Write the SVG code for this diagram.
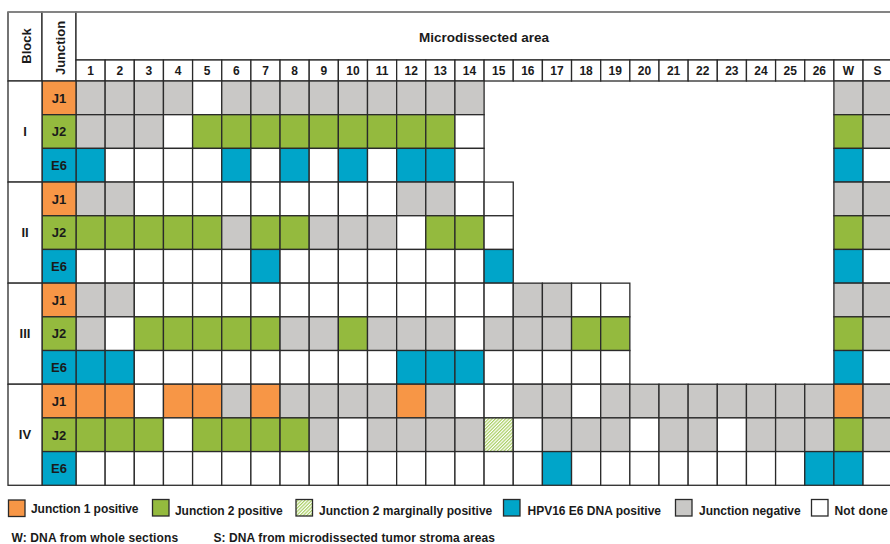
<svg xmlns="http://www.w3.org/2000/svg" width="890" height="544" viewBox="0 0 890 544">
<style>
  .t{font-family:"Liberation Sans",Arial,sans-serif;font-weight:bold;fill:#1a1a1a}
  .c{text-anchor:middle}
  .grid rect,.lab rect,.hdr rect,.leg rect{stroke:#2a2a2a;stroke-width:1.3}
  .n{fill:#c9c8c6}.w{fill:#ffffff}.g{fill:#94ba3e}.o{fill:#f79646}.b{fill:#00a5c9}.h{fill:url(#hatch)}
</style>
<defs>
  <pattern id="hatch" patternUnits="userSpaceOnUse" width="2.4" height="2.4" patternTransform="rotate(45)">
    <rect width="2.4" height="2.4" fill="#ffffff"/>
    <rect width="1.2" height="2.4" fill="#a9cf63"/>
  </pattern>
</defs>
<rect width="890" height="544" fill="#ffffff"/>

<!-- Header -->
<g id="header" class="hdr">
  <rect class="w" x="8" y="12" width="34" height="69"/>
  <rect class="w" x="42" y="12" width="34" height="69"/>
  <rect class="w" x="76" y="12" width="816.2" height="48"/>
  <line x1="8" y1="12" x2="890" y2="12" stroke="#8a8a8a" stroke-width="1.6"/>
  <text class="t c" font-size="13" transform="translate(31,46) rotate(-90)">Block</text>
  <text class="t c" font-size="13" transform="translate(64.5,48) rotate(-90)">Junction</text>
  <text class="t c" x="484" y="41.5" font-size="13.5">Microdissected area</text>
  <g transform="translate(0,60)">
    <rect class="w" x="76" y="0" width="29.15" height="21"/>
    <rect class="w" x="105.15" y="0" width="29.15" height="21"/>
    <rect class="w" x="134.3" y="0" width="29.15" height="21"/>
    <rect class="w" x="163.45" y="0" width="29.15" height="21"/>
    <rect class="w" x="192.6" y="0" width="29.15" height="21"/>
    <rect class="w" x="221.75" y="0" width="29.15" height="21"/>
    <rect class="w" x="250.9" y="0" width="29.15" height="21"/>
    <rect class="w" x="280.05" y="0" width="29.15" height="21"/>
    <rect class="w" x="309.2" y="0" width="29.15" height="21"/>
    <rect class="w" x="338.35" y="0" width="29.15" height="21"/>
    <rect class="w" x="367.5" y="0" width="29.15" height="21"/>
    <rect class="w" x="396.65" y="0" width="29.15" height="21"/>
    <rect class="w" x="425.8" y="0" width="29.15" height="21"/>
    <rect class="w" x="454.95" y="0" width="29.15" height="21"/>
    <rect class="w" x="484.1" y="0" width="29.15" height="21"/>
    <rect class="w" x="513.25" y="0" width="29.15" height="21"/>
    <rect class="w" x="542.4" y="0" width="29.15" height="21"/>
    <rect class="w" x="571.55" y="0" width="29.15" height="21"/>
    <rect class="w" x="600.7" y="0" width="29.15" height="21"/>
    <rect class="w" x="629.85" y="0" width="29.15" height="21"/>
    <rect class="w" x="659" y="0" width="29.15" height="21"/>
    <rect class="w" x="688.15" y="0" width="29.15" height="21"/>
    <rect class="w" x="717.3" y="0" width="29.15" height="21"/>
    <rect class="w" x="746.45" y="0" width="29.15" height="21"/>
    <rect class="w" x="775.6" y="0" width="29.15" height="21"/>
    <rect class="w" x="804.75" y="0" width="29.15" height="21"/>
    <rect class="w" x="833.9" y="0" width="29.15" height="21"/>
    <rect class="w" x="863.05" y="0" width="29.15" height="21"/>
    <g class="t c" font-size="12">
      <text x="90.58" y="15.3">1</text><text x="119.73" y="15.3">2</text><text x="148.88" y="15.3">3</text><text x="178.03" y="15.3">4</text>
      <text x="207.18" y="15.3">5</text><text x="236.33" y="15.3">6</text><text x="265.48" y="15.3">7</text><text x="294.63" y="15.3">8</text>
      <text x="323.78" y="15.3">9</text><text x="352.93" y="15.3">10</text><text x="382.08" y="15.3">11</text><text x="411.23" y="15.3">12</text>
      <text x="440.38" y="15.3">13</text><text x="469.53" y="15.3">14</text><text x="498.68" y="15.3">15</text><text x="527.83" y="15.3">16</text>
      <text x="556.98" y="15.3">17</text><text x="586.13" y="15.3">18</text><text x="615.28" y="15.3">19</text><text x="644.43" y="15.3">20</text>
      <text x="673.58" y="15.3">21</text><text x="702.73" y="15.3">22</text><text x="731.88" y="15.3">23</text><text x="761.03" y="15.3">24</text>
      <text x="790.18" y="15.3">25</text><text x="819.33" y="15.3">26</text><text x="848.48" y="15.3">W</text><text x="877.63" y="15.3">S</text>
    </g>
  </g>
</g>

<!-- Block I -->
<g id="block-I" class="grid">
  <g transform="translate(0,81)">
    <rect class="n" x="76" width="29.15" height="33.69"/><rect class="n" x="105.15" width="29.15" height="33.69"/><rect class="n" x="134.3" width="29.15" height="33.69"/><rect class="n" x="163.45" width="29.15" height="33.69"/>
    <rect class="w" x="192.6" width="29.15" height="33.69"/><rect class="n" x="221.75" width="29.15" height="33.69"/><rect class="n" x="250.9" width="29.15" height="33.69"/><rect class="n" x="280.05" width="29.15" height="33.69"/>
    <rect class="n" x="309.2" width="29.15" height="33.69"/><rect class="n" x="338.35" width="29.15" height="33.69"/><rect class="n" x="367.5" width="29.15" height="33.69"/><rect class="n" x="396.65" width="29.15" height="33.69"/>
    <rect class="n" x="425.8" width="29.15" height="33.69"/><rect class="n" x="454.95" width="29.15" height="33.69"/>
    <rect class="n" x="833.9" width="29.15" height="33.69"/><rect class="n" x="863.05" width="29.15" height="33.69"/>
  </g>
  <g transform="translate(0,114.69)">
    <rect class="n" x="76" width="29.15" height="33.69"/><rect class="n" x="105.15" width="29.15" height="33.69"/><rect class="n" x="134.3" width="29.15" height="33.69"/><rect class="w" x="163.45" width="29.15" height="33.69"/>
    <rect class="g" x="192.6" width="29.15" height="33.69"/><rect class="g" x="221.75" width="29.15" height="33.69"/><rect class="g" x="250.9" width="29.15" height="33.69"/><rect class="g" x="280.05" width="29.15" height="33.69"/>
    <rect class="g" x="309.2" width="29.15" height="33.69"/><rect class="g" x="338.35" width="29.15" height="33.69"/><rect class="g" x="367.5" width="29.15" height="33.69"/><rect class="g" x="396.65" width="29.15" height="33.69"/>
    <rect class="g" x="425.8" width="29.15" height="33.69"/><rect class="w" x="454.95" width="29.15" height="33.69"/>
    <rect class="g" x="833.9" width="29.15" height="33.69"/><rect class="n" x="863.05" width="29.15" height="33.69"/>
  </g>
  <g transform="translate(0,148.38)">
    <rect class="b" x="76" width="29.15" height="33.69"/><rect class="w" x="105.15" width="29.15" height="33.69"/><rect class="w" x="134.3" width="29.15" height="33.69"/><rect class="w" x="163.45" width="29.15" height="33.69"/>
    <rect class="w" x="192.6" width="29.15" height="33.69"/><rect class="b" x="221.75" width="29.15" height="33.69"/><rect class="w" x="250.9" width="29.15" height="33.69"/><rect class="b" x="280.05" width="29.15" height="33.69"/>
    <rect class="w" x="309.2" width="29.15" height="33.69"/><rect class="b" x="338.35" width="29.15" height="33.69"/><rect class="w" x="367.5" width="29.15" height="33.69"/><rect class="b" x="396.65" width="29.15" height="33.69"/>
    <rect class="b" x="425.8" width="29.15" height="33.69"/><rect class="w" x="454.95" width="29.15" height="33.69"/>
    <rect class="b" x="833.9" width="29.15" height="33.69"/><rect class="w" x="863.05" width="29.15" height="33.69"/>
  </g>
</g>

<!-- Block II -->
<g id="block-II" class="grid">
  <g transform="translate(0,182.07)">
    <rect class="n" x="76" width="29.15" height="33.69"/><rect class="n" x="105.15" width="29.15" height="33.69"/><rect class="w" x="134.3" width="29.15" height="33.69"/><rect class="w" x="163.45" width="29.15" height="33.69"/>
    <rect class="w" x="192.6" width="29.15" height="33.69"/><rect class="w" x="221.75" width="29.15" height="33.69"/><rect class="w" x="250.9" width="29.15" height="33.69"/><rect class="w" x="280.05" width="29.15" height="33.69"/>
    <rect class="w" x="309.2" width="29.15" height="33.69"/><rect class="w" x="338.35" width="29.15" height="33.69"/><rect class="w" x="367.5" width="29.15" height="33.69"/><rect class="n" x="396.65" width="29.15" height="33.69"/>
    <rect class="n" x="425.8" width="29.15" height="33.69"/><rect class="w" x="454.95" width="29.15" height="33.69"/><rect class="w" x="484.1" width="29.15" height="33.69"/>
    <rect class="n" x="833.9" width="29.15" height="33.69"/><rect class="n" x="863.05" width="29.15" height="33.69"/>
  </g>
  <g transform="translate(0,215.76)">
    <rect class="g" x="76" width="29.15" height="33.69"/><rect class="g" x="105.15" width="29.15" height="33.69"/><rect class="g" x="134.3" width="29.15" height="33.69"/><rect class="g" x="163.45" width="29.15" height="33.69"/>
    <rect class="g" x="192.6" width="29.15" height="33.69"/><rect class="n" x="221.75" width="29.15" height="33.69"/><rect class="g" x="250.9" width="29.15" height="33.69"/><rect class="g" x="280.05" width="29.15" height="33.69"/>
    <rect class="n" x="309.2" width="29.15" height="33.69"/><rect class="n" x="338.35" width="29.15" height="33.69"/><rect class="n" x="367.5" width="29.15" height="33.69"/><rect class="w" x="396.65" width="29.15" height="33.69"/>
    <rect class="g" x="425.8" width="29.15" height="33.69"/><rect class="g" x="454.95" width="29.15" height="33.69"/><rect class="w" x="484.1" width="29.15" height="33.69"/>
    <rect class="g" x="833.9" width="29.15" height="33.69"/><rect class="n" x="863.05" width="29.15" height="33.69"/>
  </g>
  <g transform="translate(0,249.45)">
    <rect class="w" x="76" width="29.15" height="33.69"/><rect class="w" x="105.15" width="29.15" height="33.69"/><rect class="w" x="134.3" width="29.15" height="33.69"/><rect class="w" x="163.45" width="29.15" height="33.69"/>
    <rect class="w" x="192.6" width="29.15" height="33.69"/><rect class="w" x="221.75" width="29.15" height="33.69"/><rect class="b" x="250.9" width="29.15" height="33.69"/><rect class="w" x="280.05" width="29.15" height="33.69"/>
    <rect class="w" x="309.2" width="29.15" height="33.69"/><rect class="w" x="338.35" width="29.15" height="33.69"/><rect class="w" x="367.5" width="29.15" height="33.69"/><rect class="w" x="396.65" width="29.15" height="33.69"/>
    <rect class="w" x="425.8" width="29.15" height="33.69"/><rect class="w" x="454.95" width="29.15" height="33.69"/><rect class="b" x="484.1" width="29.15" height="33.69"/>
    <rect class="b" x="833.9" width="29.15" height="33.69"/><rect class="w" x="863.05" width="29.15" height="33.69"/>
  </g>
</g>

<!-- Block III -->
<g id="block-III" class="grid">
  <g transform="translate(0,283.14)">
    <rect class="n" x="76" width="29.15" height="33.69"/><rect class="n" x="105.15" width="29.15" height="33.69"/><rect class="w" x="134.3" width="29.15" height="33.69"/><rect class="w" x="163.45" width="29.15" height="33.69"/>
    <rect class="w" x="192.6" width="29.15" height="33.69"/><rect class="w" x="221.75" width="29.15" height="33.69"/><rect class="w" x="250.9" width="29.15" height="33.69"/><rect class="w" x="280.05" width="29.15" height="33.69"/>
    <rect class="w" x="309.2" width="29.15" height="33.69"/><rect class="w" x="338.35" width="29.15" height="33.69"/><rect class="w" x="367.5" width="29.15" height="33.69"/><rect class="w" x="396.65" width="29.15" height="33.69"/>
    <rect class="w" x="425.8" width="29.15" height="33.69"/><rect class="w" x="454.95" width="29.15" height="33.69"/><rect class="w" x="484.1" width="29.15" height="33.69"/><rect class="n" x="513.25" width="29.15" height="33.69"/>
    <rect class="n" x="542.4" width="29.15" height="33.69"/><rect class="w" x="571.55" width="29.15" height="33.69"/><rect class="w" x="600.7" width="29.15" height="33.69"/>
    <rect class="n" x="833.9" width="29.15" height="33.69"/><rect class="n" x="863.05" width="29.15" height="33.69"/>
  </g>
  <g transform="translate(0,316.83)">
    <rect class="n" x="76" width="29.15" height="33.69"/><rect class="w" x="105.15" width="29.15" height="33.69"/><rect class="g" x="134.3" width="29.15" height="33.69"/><rect class="g" x="163.45" width="29.15" height="33.69"/>
    <rect class="g" x="192.6" width="29.15" height="33.69"/><rect class="g" x="221.75" width="29.15" height="33.69"/><rect class="g" x="250.9" width="29.15" height="33.69"/><rect class="n" x="280.05" width="29.15" height="33.69"/>
    <rect class="n" x="309.2" width="29.15" height="33.69"/><rect class="g" x="338.35" width="29.15" height="33.69"/><rect class="n" x="367.5" width="29.15" height="33.69"/><rect class="n" x="396.65" width="29.15" height="33.69"/>
    <rect class="n" x="425.8" width="29.15" height="33.69"/><rect class="w" x="454.95" width="29.15" height="33.69"/><rect class="n" x="484.1" width="29.15" height="33.69"/><rect class="n" x="513.25" width="29.15" height="33.69"/>
    <rect class="n" x="542.4" width="29.15" height="33.69"/><rect class="g" x="571.55" width="29.15" height="33.69"/><rect class="g" x="600.7" width="29.15" height="33.69"/>
    <rect class="g" x="833.9" width="29.15" height="33.69"/><rect class="n" x="863.05" width="29.15" height="33.69"/>
  </g>
  <g transform="translate(0,350.52)">
    <rect class="b" x="76" width="29.15" height="33.69"/><rect class="b" x="105.15" width="29.15" height="33.69"/><rect class="w" x="134.3" width="29.15" height="33.69"/><rect class="w" x="163.45" width="29.15" height="33.69"/>
    <rect class="w" x="192.6" width="29.15" height="33.69"/><rect class="w" x="221.75" width="29.15" height="33.69"/><rect class="w" x="250.9" width="29.15" height="33.69"/><rect class="w" x="280.05" width="29.15" height="33.69"/>
    <rect class="w" x="309.2" width="29.15" height="33.69"/><rect class="w" x="338.35" width="29.15" height="33.69"/><rect class="w" x="367.5" width="29.15" height="33.69"/><rect class="b" x="396.65" width="29.15" height="33.69"/>
    <rect class="b" x="425.8" width="29.15" height="33.69"/><rect class="b" x="454.95" width="29.15" height="33.69"/><rect class="w" x="484.1" width="29.15" height="33.69"/><rect class="w" x="513.25" width="29.15" height="33.69"/>
    <rect class="w" x="542.4" width="29.15" height="33.69"/><rect class="w" x="571.55" width="29.15" height="33.69"/><rect class="w" x="600.7" width="29.15" height="33.69"/>
    <rect class="b" x="833.9" width="29.15" height="33.69"/><rect class="w" x="863.05" width="29.15" height="33.69"/>
  </g>
</g>

<!-- Block IV -->
<g id="block-IV" class="grid">
  <g transform="translate(0,384.21)">
    <rect class="o" x="76" width="29.15" height="33.69"/><rect class="o" x="105.15" width="29.15" height="33.69"/><rect class="w" x="134.3" width="29.15" height="33.69"/><rect class="o" x="163.45" width="29.15" height="33.69"/>
    <rect class="o" x="192.6" width="29.15" height="33.69"/><rect class="n" x="221.75" width="29.15" height="33.69"/><rect class="o" x="250.9" width="29.15" height="33.69"/><rect class="n" x="280.05" width="29.15" height="33.69"/>
    <rect class="n" x="309.2" width="29.15" height="33.69"/><rect class="n" x="338.35" width="29.15" height="33.69"/><rect class="n" x="367.5" width="29.15" height="33.69"/><rect class="o" x="396.65" width="29.15" height="33.69"/>
    <rect class="n" x="425.8" width="29.15" height="33.69"/><rect class="w" x="454.95" width="29.15" height="33.69"/><rect class="w" x="484.1" width="29.15" height="33.69"/><rect class="n" x="513.25" width="29.15" height="33.69"/>
    <rect class="n" x="542.4" width="29.15" height="33.69"/><rect class="w" x="571.55" width="29.15" height="33.69"/><rect class="n" x="600.7" width="29.15" height="33.69"/><rect class="n" x="629.85" width="29.15" height="33.69"/>
    <rect class="n" x="659" width="29.15" height="33.69"/><rect class="n" x="688.15" width="29.15" height="33.69"/><rect class="n" x="717.3" width="29.15" height="33.69"/><rect class="n" x="746.45" width="29.15" height="33.69"/>
    <rect class="n" x="775.6" width="29.15" height="33.69"/><rect class="n" x="804.75" width="29.15" height="33.69"/>
    <rect class="o" x="833.9" width="29.15" height="33.69"/><rect class="n" x="863.05" width="29.15" height="33.69"/>
  </g>
  <g transform="translate(0,417.9)">
    <rect class="g" x="76" width="29.15" height="33.69"/><rect class="g" x="105.15" width="29.15" height="33.69"/><rect class="g" x="134.3" width="29.15" height="33.69"/><rect class="w" x="163.45" width="29.15" height="33.69"/>
    <rect class="g" x="192.6" width="29.15" height="33.69"/><rect class="g" x="221.75" width="29.15" height="33.69"/><rect class="g" x="250.9" width="29.15" height="33.69"/><rect class="g" x="280.05" width="29.15" height="33.69"/>
    <rect class="n" x="309.2" width="29.15" height="33.69"/><rect class="w" x="338.35" width="29.15" height="33.69"/><rect class="n" x="367.5" width="29.15" height="33.69"/><rect class="n" x="396.65" width="29.15" height="33.69"/>
    <rect class="n" x="425.8" width="29.15" height="33.69"/><rect class="n" x="454.95" width="29.15" height="33.69"/><rect class="h" x="484.1" width="29.15" height="33.69"/><rect class="w" x="513.25" width="29.15" height="33.69"/>
    <rect class="n" x="542.4" width="29.15" height="33.69"/><rect class="n" x="571.55" width="29.15" height="33.69"/><rect class="n" x="600.7" width="29.15" height="33.69"/><rect class="w" x="629.85" width="29.15" height="33.69"/>
    <rect class="n" x="659" width="29.15" height="33.69"/><rect class="n" x="688.15" width="29.15" height="33.69"/><rect class="w" x="717.3" width="29.15" height="33.69"/><rect class="n" x="746.45" width="29.15" height="33.69"/>
    <rect class="n" x="775.6" width="29.15" height="33.69"/><rect class="n" x="804.75" width="29.15" height="33.69"/>
    <rect class="g" x="833.9" width="29.15" height="33.69"/><rect class="n" x="863.05" width="29.15" height="33.69"/>
  </g>
  <g transform="translate(0,451.59)">
    <rect class="w" x="76" width="29.15" height="33.69"/><rect class="w" x="105.15" width="29.15" height="33.69"/><rect class="w" x="134.3" width="29.15" height="33.69"/><rect class="w" x="163.45" width="29.15" height="33.69"/>
    <rect class="w" x="192.6" width="29.15" height="33.69"/><rect class="w" x="221.75" width="29.15" height="33.69"/><rect class="w" x="250.9" width="29.15" height="33.69"/><rect class="w" x="280.05" width="29.15" height="33.69"/>
    <rect class="w" x="309.2" width="29.15" height="33.69"/><rect class="w" x="338.35" width="29.15" height="33.69"/><rect class="w" x="367.5" width="29.15" height="33.69"/><rect class="w" x="396.65" width="29.15" height="33.69"/>
    <rect class="w" x="425.8" width="29.15" height="33.69"/><rect class="w" x="454.95" width="29.15" height="33.69"/><rect class="w" x="484.1" width="29.15" height="33.69"/><rect class="w" x="513.25" width="29.15" height="33.69"/>
    <rect class="b" x="542.4" width="29.15" height="33.69"/><rect class="w" x="571.55" width="29.15" height="33.69"/><rect class="w" x="600.7" width="29.15" height="33.69"/><rect class="w" x="629.85" width="29.15" height="33.69"/>
    <rect class="w" x="659" width="29.15" height="33.69"/><rect class="w" x="688.15" width="29.15" height="33.69"/><rect class="w" x="717.3" width="29.15" height="33.69"/><rect class="w" x="746.45" width="29.15" height="33.69"/>
    <rect class="w" x="775.6" width="29.15" height="33.69"/><rect class="b" x="804.75" width="29.15" height="33.69"/>
    <rect class="b" x="833.9" width="29.15" height="33.69"/><rect class="w" x="863.05" width="29.15" height="33.69"/>
  </g>
</g>

<!-- Junction labels -->
<g id="junction-labels" class="lab">
  <rect class="o" x="42" y="81" width="34" height="33.69"/><rect class="g" x="42" y="114.69" width="34" height="33.69"/><rect class="b" x="42" y="148.38" width="34" height="33.69"/>
  <rect class="o" x="42" y="182.07" width="34" height="33.69"/><rect class="g" x="42" y="215.76" width="34" height="33.69"/><rect class="b" x="42" y="249.45" width="34" height="33.69"/>
  <rect class="o" x="42" y="283.14" width="34" height="33.69"/><rect class="g" x="42" y="316.83" width="34" height="33.69"/><rect class="b" x="42" y="350.52" width="34" height="33.69"/>
  <rect class="o" x="42" y="384.21" width="34" height="33.69"/><rect class="g" x="42" y="417.9" width="34" height="33.69"/><rect class="b" x="42" y="451.59" width="34" height="33.69"/>
  <g class="t c" font-size="13">
    <text x="59" y="102.5">J1</text><text x="59" y="136.2">J2</text><text x="59" y="169.9">E6</text>
    <text x="59" y="203.6">J1</text><text x="59" y="237.3">J2</text><text x="59" y="271">E6</text>
    <text x="59" y="304.7">J1</text><text x="59" y="338.4">J2</text><text x="59" y="372.1">E6</text>
    <text x="59" y="405.8">J1</text><text x="59" y="439.5">J2</text><text x="59" y="473.2">E6</text>
  </g>
</g>

<!-- Block labels -->
<g id="block-labels" class="lab">
  <rect class="w" x="8" y="81" width="34" height="101.07"/>
  <rect class="w" x="8" y="182.07" width="34" height="101.07"/>
  <rect class="w" x="8" y="283.14" width="34" height="101.07"/>
  <rect class="w" x="8" y="384.21" width="34" height="101.07"/>
  <g class="t c" font-size="13">
    <text x="25" y="136">I</text><text x="25" y="237">II</text><text x="25" y="338">III</text><text x="25" y="439">IV</text>
  </g>
</g>

<!-- Legend -->
<g id="legend" class="leg">
  <rect class="o" x="8.5" y="500" width="16.5" height="16.5"/>
  <rect class="g" x="152.5" y="499.5" width="16.5" height="16.5"/>
  <rect class="h" x="296" y="499.5" width="16.5" height="16.5"/>
  <rect class="b" x="503.5" y="499.5" width="16.5" height="16.5"/>
  <rect class="n" x="675.5" y="499.5" width="16.5" height="16.5"/>
  <rect class="w" x="811.5" y="499.5" width="16.5" height="16.5"/>
  <g class="t" font-size="12">
    <text x="31" y="513" textLength="107.5">Junction 1 positive</text>
    <text x="175" y="515" textLength="107.7">Junction 2 positive</text>
    <text x="319" y="515" textLength="173.3">Junction 2 marginally positive</text>
    <text x="527.5" y="515" textLength="133.5">HPV16 E6 DNA positive</text>
    <text x="699" y="515" textLength="101.7">Junction negative</text>
    <text x="834.5" y="515" textLength="53.2">Not done</text>
  </g>
  <g class="t" font-size="12">
    <text x="11.5" y="541.5" textLength="166.6">W: DNA from whole sections</text>
    <text x="213.5" y="541.5" textLength="281.5">S: DNA from microdissected tumor stroma areas</text>
  </g>
</g>
</svg>
